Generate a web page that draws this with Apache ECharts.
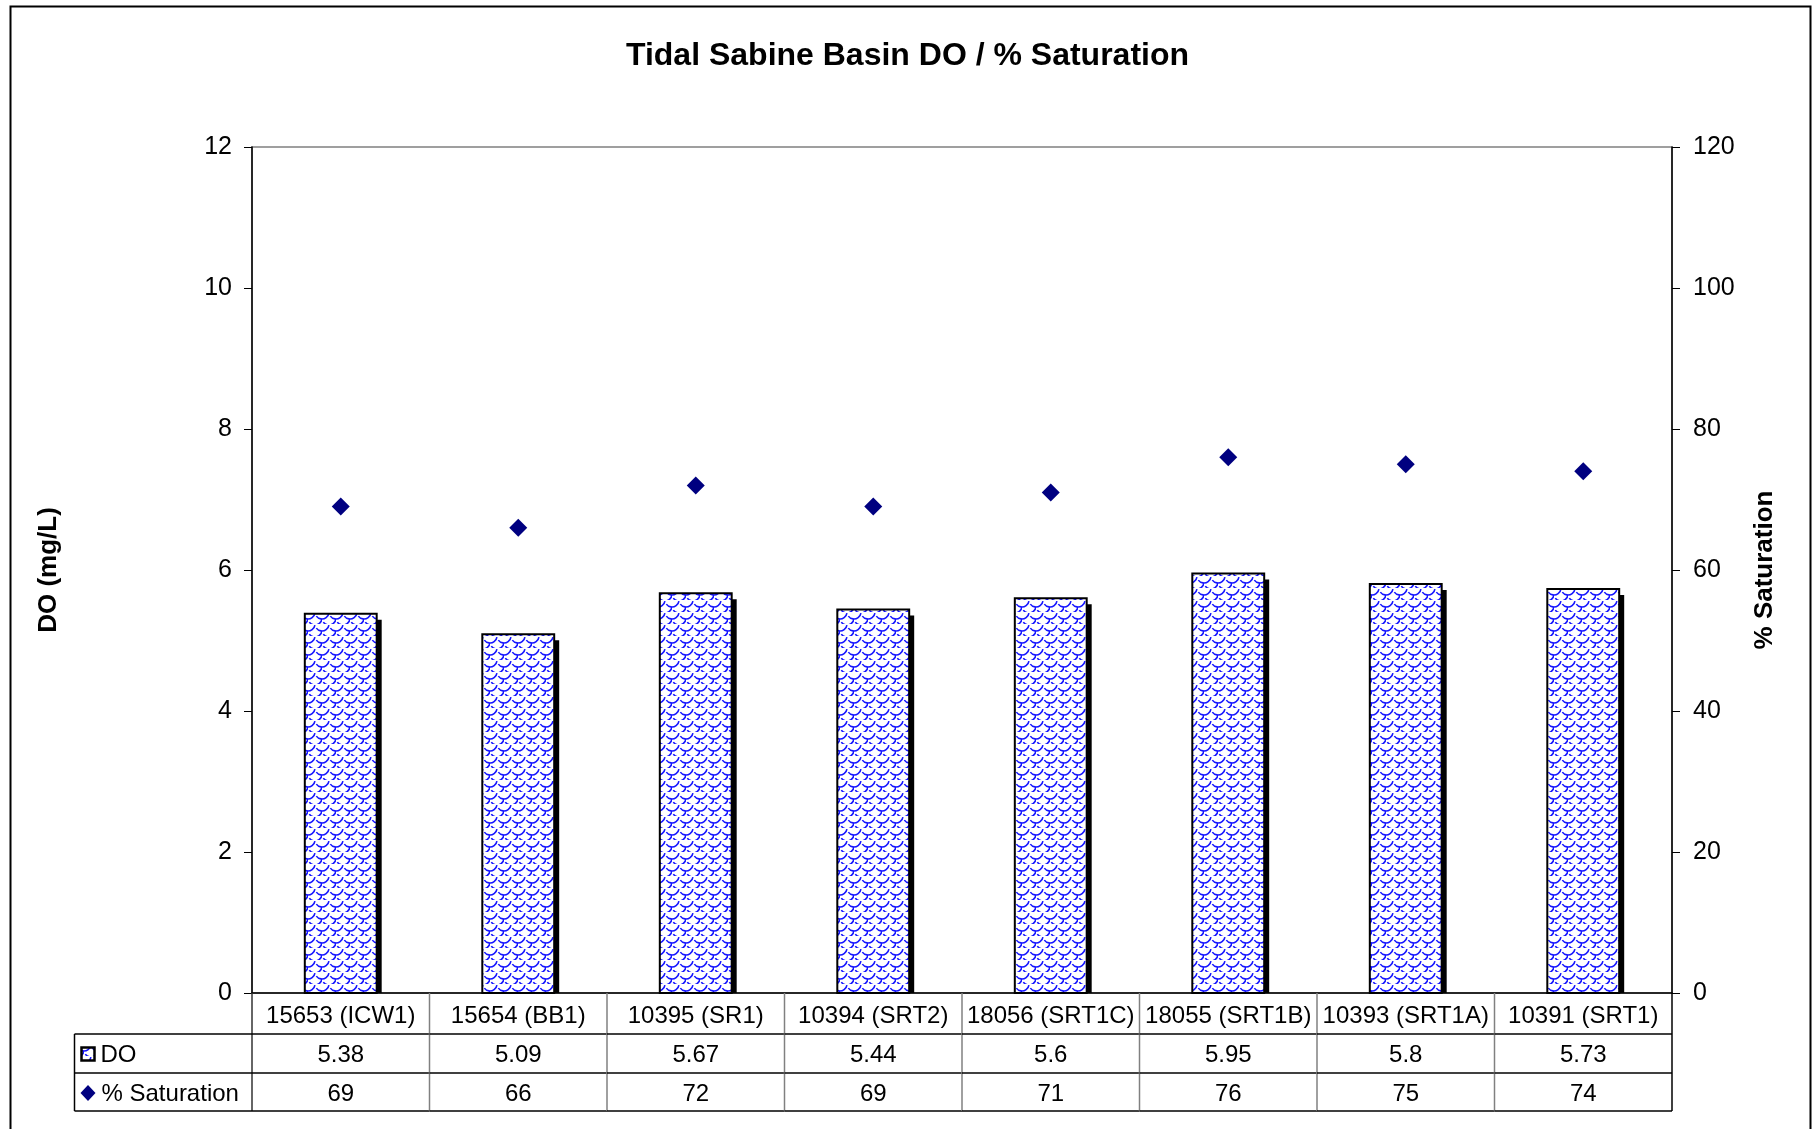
<!DOCTYPE html>
<html>
<head>
<meta charset="utf-8">
<script src="https://cdn.jsdelivr.net/npm/echarts@6/dist/echarts.min.js"></script>
<style>
  html, body { margin: 0; padding: 0; background: #fff; }
  #chart { width: 1815px; height: 1129px; }
</style>
</head>
<body>
<div id="chart"></div>
<script>
// 站点名称
const stations = ['15653 (ICW1)', '15654 (BB1)', '10395 (SR1)', '10394 (SRT2)', '18056 (SRT1C)', '18055 (SRT1B)', '10393 (SRT1A)', '10391 (SRT1)'];
// DO (mg/L)
const doValues = [5.38, 5.09, 5.67, 5.44, 5.6, 5.95, 5.8, 5.73];
// % Saturation
const satValues = [69, 66, 72, 69, 71, 76, 75, 74];
const leftTicks = [0, 2, 4, 6, 8, 10, 12];
const rightTicks = [0, 20, 40, 60, 80, 100, 120];

const FONT = '"Liberation Sans", Arial, sans-serif';

// 柱子的花纹（蓝色鱼鳞纹）
function makeTile() {
  const c = document.createElement('canvas');
  c.width = 14;
  c.height = 12;
  const ctx = c.getContext('2d');
  ctx.fillStyle = '#fff';
  ctx.fillRect(0, 0, 14, 12);
  ctx.strokeStyle = '#1414ff';
  ctx.lineWidth = 1.6;
  const centers = [[0, 0], [14, 0], [7, 6], [0, 12], [14, 12]];
  centers.forEach(([cx, cy]) => {
    ctx.beginPath();
    ctx.arc(cx, cy, 7, 0.05 * Math.PI, 0.8 * Math.PI);
    ctx.stroke();
  });
  return c;
}
const tile = makeTile();
const patternFill = { image: tile, repeat: 'repeat' };

const chart = echarts.init(document.getElementById('chart'));

function renderBar(params, api) {
  const i = api.value(0);
  const top = api.coord([i, api.value(1)]);
  const base = api.coord([i, 0]);
  const w = api.size([1, 0])[0] * 0.405;
  const x = top[0] - w / 2;
  const h = base[1] - top[1];
  return {
    type: 'group',
    children: [
      { type: 'rect', shape: { x: x + 5, y: top[1] + 6, width: w, height: h - 6 }, style: { fill: '#000' } },
      { type: 'rect', shape: { x: x, y: top[1], width: w, height: h }, style: { fill: patternFill, stroke: '#000', lineWidth: 2 } }
    ]
  };
}

// 底部数据表
function renderTable(params, api) {
  const i = api.value(0);
  const p = api.coord([i, 0]);
  const bw = api.size([1, 0])[0];
  const x0 = p[0] - bw / 2;
  const y0 = p[1];
  const r1 = y0 + 41, r2 = r1 + 39, r3 = r2 + 38;
  const txt = (x, y, s, align) => ({
    type: 'text',
    x: x, y: y,
    style: { text: s, fill: '#000', font: '24px ' + FONT, textAlign: align || 'center', textVerticalAlign: 'middle' }
  });
  const line = (x1, y1, x2, y2, color) => ({
    type: 'line',
    shape: { x1, y1, x2, y2 },
    style: { stroke: color, lineWidth: 1.5 }
  });
  const children = [
    line(x0, y0, x0, r3, i === 0 ? '#333' : '#808080'),
    line(x0, r1, x0 + bw, r1, '#000'),
    line(x0, r2, x0 + bw, r2, '#000'),
    line(x0, r3, x0 + bw, r3, '#000'),
    txt(p[0], (y0 + r1) / 2 + 3, stations[i]),
    txt(p[0], (r1 + r2) / 2 + 2, String(doValues[i])),
    txt(p[0], (r2 + r3) / 2 + 2, String(satValues[i]))
  ];
  if (i === stations.length - 1) {
    children.push(line(x0 + bw, y0, x0 + bw, r3, '#000'));
  }
  if (i === 0) {
    const hx = x0 - bw;
    const dy = (r2 + r3) / 2 + 1;
    children.push(
      line(hx, r1, x0, r1, '#000'),
      line(hx, r2, x0, r2, '#000'),
      line(hx, r3, x0, r3, '#000'),
      line(hx, r1, hx, r3, '#000'),
      { type: 'rect', shape: { x: hx + 7, y: (r1 + r2) / 2 - 6, width: 13, height: 13 }, style: { fill: patternFill, stroke: '#000', lineWidth: 2.5 } },
      { type: 'polygon', shape: { points: [[hx + 13.5, dy - 8], [hx + 21, dy], [hx + 13.5, dy + 8], [hx + 6, dy]] }, style: { fill: '#000080' } },
      txt(hx + 26, (r1 + r2) / 2 + 2, 'DO', 'left'),
      txt(hx + 27, (r2 + r3) / 2 + 2, '% Saturation', 'left')
    );
  }
  return { type: 'group', children };
}

const option = {
  backgroundColor: '#fff',
  animation: false,
  title: {
    text: 'Tidal Sabine Basin DO / % Saturation',
    left: 'center',
    top: 35,
    textStyle: { fontFamily: FONT, fontWeight: 'bold', fontSize: 32, color: '#000' }
  },
  graphic: [
    { type: 'rect', left: 8, top: 4, shape: { width: 1800, height: 1140 }, style: { fill: 'none', stroke: '#000', lineWidth: 2 } }
  ],
  grid: {
    left: 252, right: 143, top: 147, bottom: 136,
    show: true, borderColor: '#808080', borderWidth: 1.5
  },
  xAxis: {
    type: 'category',
    data: stations,
    axisLine: { lineStyle: { color: '#000', width: 1.5 } },
    axisTick: { show: false },
    axisLabel: { show: false }
  },
  yAxis: [
    {
      type: 'value', min: leftTicks[0], max: leftTicks[leftTicks.length - 1], interval: 2,
      name: 'DO (mg/L)', nameLocation: 'middle', nameGap: 190,
      nameTextStyle: { fontFamily: FONT, fontWeight: 'bold', fontSize: 26, color: '#000' },
      axisLine: { show: true, lineStyle: { color: '#000', width: 1.5 } },
      axisTick: { show: true, length: 8, lineStyle: { color: '#000' } },
      axisLabel: { fontFamily: FONT, fontSize: 25, color: '#000', margin: 20 },
      splitLine: { show: false }
    },
    {
      type: 'value', min: rightTicks[0], max: rightTicks[rightTicks.length - 1], interval: 20,
      name: '% Saturation', nameLocation: 'middle', nameGap: 80,
      nameTextStyle: { fontFamily: FONT, fontWeight: 'bold', fontSize: 26, color: '#000' },
      axisLine: { show: true, lineStyle: { color: '#000', width: 1.5 } },
      axisTick: { show: true, length: 8, lineStyle: { color: '#000' } },
      axisLabel: { fontFamily: FONT, fontSize: 25, color: '#000', margin: 21 },
      splitLine: { show: false }
    }
  ],
  series: [
    {
      name: 'DO',
      type: 'custom',
      yAxisIndex: 0,
      renderItem: renderBar,
      encode: { x: 0, y: 1 },
      data: doValues.map((v, i) => [i, v]),
      z: 2
    },
    {
      name: '% Saturation',
      type: 'scatter',
      yAxisIndex: 1,
      symbol: 'diamond',
      symbolSize: 18,
      itemStyle: { color: '#000080', opacity: 1 },
      data: satValues,
      z: 3
    },
    {
      name: 'table',
      type: 'custom',
      yAxisIndex: 0,
      clip: false,
      silent: true,
      renderItem: renderTable,
      encode: { x: 0, y: 1 },
      data: stations.map((s, i) => [i, 0]),
      z: 4
    }
  ]
};

chart.setOption(option);
</script>
</body>
</html>
